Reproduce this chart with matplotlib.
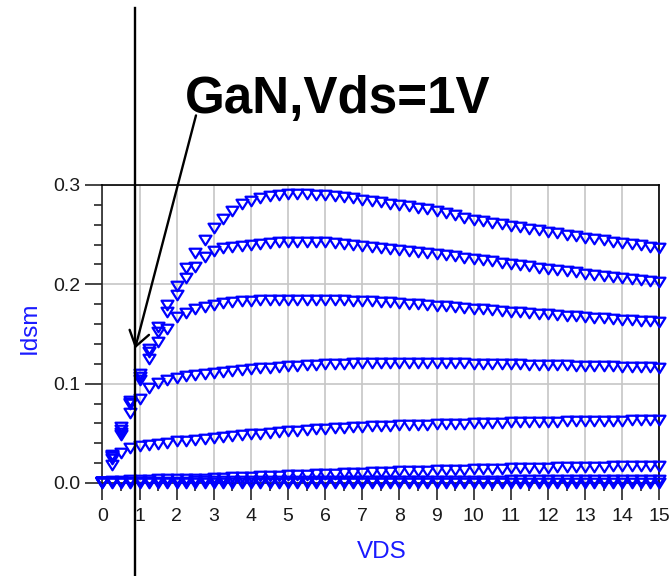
import numpy as np
import matplotlib
matplotlib.use("Agg")
import matplotlib.pyplot as plt
from matplotlib.path import Path
from matplotlib.ticker import MultipleLocator, FormatStrFormatter

plt.rcParams["font.family"] = ["Liberation Sans", "DejaVu Sans"]

# Drain sweep (V)
vds = np.arange(0.0, 15.0001, 0.25)

# Drain current (A), one list per gate bias, highest first
idsm_vg7 = [0.001, 0.028, 0.0566, 0.083,
            0.110, 0.135, 0.157, 0.179,
            0.198, 0.216, 0.231, 0.245,
            0.257, 0.266, 0.274, 0.281,
            0.284, 0.287, 0.289, 0.290,
            0.291, 0.291, 0.291, 0.290,
            0.290, 0.289, 0.288, 0.287,
            0.285, 0.284, 0.283, 0.281,
            0.280, 0.279, 0.277, 0.276,
            0.274, 0.272, 0.270, 0.267,
            0.265, 0.264, 0.262, 0.261,
            0.259, 0.258, 0.256, 0.255,
            0.253, 0.252, 0.250, 0.249,
            0.247, 0.246, 0.245, 0.243,
            0.242, 0.241, 0.240, 0.238,
            0.237]
idsm_vg6 = [0.001, 0.027, 0.053, 0.081,
            0.107, 0.132, 0.152, 0.172,
            0.189, 0.206, 0.217, 0.227,
            0.234, 0.2365, 0.238, 0.239,
            0.240, 0.241, 0.242, 0.2425,
            0.243, 0.243, 0.243, 0.243,
            0.2425, 0.242, 0.241, 0.240,
            0.239, 0.238, 0.237, 0.236,
            0.235, 0.234, 0.233, 0.232,
            0.230, 0.229, 0.228, 0.226,
            0.225, 0.224, 0.223, 0.221,
            0.220, 0.219, 0.218, 0.216,
            0.215, 0.214, 0.213, 0.212,
            0.210, 0.209, 0.208, 0.207,
            0.206, 0.205, 0.204, 0.203,
            0.202]
idsm_vg5 = [0.001, 0.0265, 0.050, 0.080,
            0.1035, 0.125, 0.142, 0.155,
            0.167, 0.171, 0.175, 0.177,
            0.179, 0.181, 0.182, 0.183,
            0.1835, 0.184, 0.184, 0.1845,
            0.1845, 0.1845, 0.1845, 0.1845,
            0.184, 0.184, 0.184, 0.1835,
            0.183, 0.183, 0.182, 0.182,
            0.181, 0.180, 0.180, 0.179,
            0.178, 0.178, 0.177, 0.176,
            0.175, 0.175, 0.174, 0.173,
            0.172, 0.172, 0.171, 0.170,
            0.170, 0.169, 0.168, 0.168,
            0.167, 0.166, 0.166, 0.165,
            0.164, 0.164, 0.163, 0.163,
            0.162]
idsm_vg4 = [0.001, 0.024, 0.048, 0.070,
            0.085, 0.096, 0.101, 0.1035,
            0.106, 0.1075, 0.1085, 0.110,
            0.111, 0.112, 0.113, 0.114,
            0.115, 0.1155, 0.116, 0.117,
            0.1175, 0.118, 0.1185, 0.119,
            0.1195, 0.120, 0.120, 0.1205,
            0.1205, 0.121, 0.121, 0.121,
            0.121, 0.121, 0.121, 0.121,
            0.121, 0.1205, 0.1205, 0.1205,
            0.120, 0.120, 0.120, 0.1195,
            0.1195, 0.1195, 0.119, 0.119,
            0.119, 0.1185, 0.1185, 0.118,
            0.118, 0.118, 0.1175, 0.1175,
            0.117, 0.117, 0.1165, 0.1165,
            0.116]
idsm_vg3 = [0.001, 0.018, 0.030, 0.035,
            0.037, 0.038, 0.039, 0.0405,
            0.042, 0.0425, 0.043, 0.044,
            0.045, 0.046, 0.047, 0.048,
            0.049, 0.0495, 0.0505, 0.051,
            0.052, 0.0525, 0.0535, 0.054,
            0.0545, 0.055, 0.0555, 0.056,
            0.0565, 0.057, 0.057, 0.0575,
            0.058, 0.058, 0.0585, 0.0585,
            0.059, 0.059, 0.0595, 0.0595,
            0.060, 0.060, 0.0605, 0.0605,
            0.061, 0.061, 0.061, 0.0615,
            0.0615, 0.0615, 0.062, 0.062,
            0.062, 0.0622, 0.0625, 0.0625,
            0.0627, 0.063, 0.063, 0.063,
            0.0632]
idsm_vg2 = [0.001, 0.0015, 0.002, 0.0025,
            0.003, 0.003, 0.0035, 0.0035,
            0.004, 0.004, 0.0045, 0.0045,
            0.005, 0.0055, 0.006, 0.006,
            0.0065, 0.007, 0.0075, 0.0075,
            0.008, 0.0085, 0.0085, 0.009,
            0.0095, 0.0095, 0.010, 0.0105,
            0.0105, 0.011, 0.011, 0.0115,
            0.012, 0.012, 0.0125, 0.0125,
            0.013, 0.013, 0.0133, 0.0135,
            0.0138, 0.014, 0.0142, 0.0145,
            0.0147, 0.015, 0.015, 0.0152,
            0.0155, 0.0157, 0.016, 0.016,
            0.0162, 0.0163, 0.0165, 0.0167,
            0.0168, 0.017, 0.017, 0.0172,
            0.0173]
idsm_vg1 = [0.001, 0.001, 0.001, 0.0011,
            0.0012, 0.0012, 0.0013, 0.0013,
            0.0014, 0.0014, 0.0015, 0.0015,
            0.0016, 0.0016, 0.0016, 0.0017,
            0.0017, 0.0017, 0.0018, 0.0018,
            0.0018, 0.0019, 0.0019, 0.0019,
            0.0020, 0.0020, 0.0020, 0.0020,
            0.0021, 0.0021, 0.0021, 0.0021,
            0.0022, 0.0022, 0.0022, 0.0022,
            0.0023, 0.0023, 0.0023, 0.0023,
            0.0024, 0.0024, 0.0024, 0.0024,
            0.0025, 0.0025, 0.0025, 0.0025,
            0.0026, 0.0026, 0.0026, 0.0026,
            0.0027, 0.0027, 0.0027, 0.0027,
            0.0028, 0.0028, 0.0028, 0.0028,
            0.0029]
idsm_vg0 = [0.0] * 61

curves = [idsm_vg0, idsm_vg1, idsm_vg2, idsm_vg3,
          idsm_vg4, idsm_vg5, idsm_vg6, idsm_vg7]

marker_vds = 0.88           # position of the vertical marker line
arrow_tip = (0.88, 0.1354)  # point the callout arrow lands on
arrow_tail = (2.52, 0.370)
callout = "GaN,Vds=1V"

trace_blue = "#0000ff"
label_blue = "#1a1aff"
tick_col = "#262626"

# ADS-style hollow downward triangle, wider than tall
tri = Path([(-1.0, 0.8), (1.0, 0.8), (0.0, -0.8), (-1.0, 0.8)],
           [Path.MOVETO, Path.LINETO, Path.LINETO, Path.CLOSEPOLY])

fig = plt.figure(figsize=(6.71, 5.76), dpi=100)
ax = fig.add_axes([0.1526, 0.1615, 0.8302, 0.5174])

for vals in curves:
    ax.plot(vds, vals, linestyle="none", marker=tri, ms=8.6,
            mfc="none", mec=trace_blue, mew=1.6, clip_on=False, zorder=3)

ax.set_xlim(0, 15)
ax.set_ylim(0, 0.3)
ax.xaxis.set_major_locator(MultipleLocator(1))
ax.xaxis.set_minor_locator(MultipleLocator(0.5))
ax.yaxis.set_major_locator(MultipleLocator(0.1))
ax.yaxis.set_minor_locator(MultipleLocator(0.02))
ax.yaxis.set_major_formatter(FormatStrFormatter("%.1f"))

ax.grid(which="major", color="#c6c6c6", lw=1.2)
ax.set_axisbelow(True)

ax.tick_params(which="major", direction="out", length=12, width=1.2,
               color=tick_col, labelsize=14, labelcolor="#1a1a1a", pad=4)
ax.tick_params(which="minor", direction="out", length=6, width=1.2,
               color=tick_col)
ax.tick_params(axis="x", which="major", length=12, pad=6)

for side in ("top", "right"):
    ax.spines[side].set_color("black")
    ax.spines[side].set_linewidth(1.2)
for side in ("left", "bottom"):
    ax.spines[side].set_color(tick_col)
    ax.spines[side].set_linewidth(1.2)

ax.set_xlabel("VDS", color=label_blue, fontsize=17.5)
ax.xaxis.label.set_va("center")
ax.xaxis.set_label_coords((382 - 102.4) / 557.0, (483 - 552) / 298.0)
ax.set_ylabel("Idsm", color=label_blue, fontsize=17.5)
ax.yaxis.label.set_va("center")
ax.yaxis.set_label_coords((30 - 102.4) / 557.0, (483 - 328) / 298.0)

# vertical marker line spanning the whole figure height
ax.axvline(marker_vds, ymin=-0.312, ymax=1.594, color="black", lw=1.7,
           clip_on=False, zorder=4)

fig.text(185 / 671, 1 - 113 / 576, callout, fontsize=36.8, fontweight="bold",
         ha="left", va="baseline", color="black")

ax.annotate("", xy=arrow_tip, xytext=arrow_tail,
            xycoords="data", textcoords="data", annotation_clip=False,
            arrowprops=dict(arrowstyle="->, head_length=1.05, head_width=0.72",
                            lw=1.7, color="black", shrinkA=0, shrinkB=0,
                            mutation_scale=10), zorder=5)

fig.savefig("out.png", dpi=100)
